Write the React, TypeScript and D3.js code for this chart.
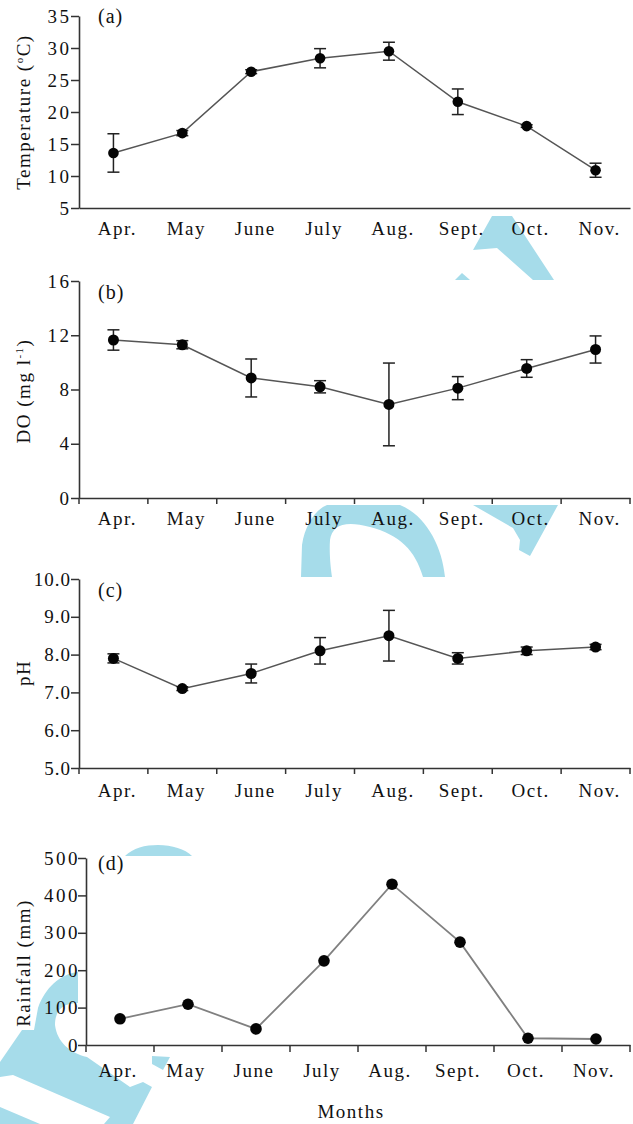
import React, { useEffect, useRef } from "react";
import * as d3 from "d3";

// months on the x axis of every panel
const months = ["Apr.", "May", "June", "July", "Aug.", "Sept.", "Oct.", "Nov."];

// (a) temperature, mean and error
const tempMean = [13.6, 16.7, 26.3, 28.4, 29.5, 21.6, 17.8, 10.9];
const tempErr = [3.0, 0.4, 0.3, 1.5, 1.4, 2.0, 0.2, 1.1];
const tempTicks = [5, 10, 15, 20, 25, 30, 35];

// (b) dissolved oxygen
const doMean = [11.65, 11.3, 8.85, 8.2, 6.9, 8.1, 9.55, 10.95];
const doErr = [0.75, 0.3, 1.4, 0.45, 3.05, 0.85, 0.65, 1.0];
const doTicks = [0, 4, 8, 12, 16];

// (c) pH
const phMean = [7.9, 7.1, 7.5, 8.1, 8.5, 7.9, 8.1, 8.2];
const phErr = [0.12, 0.05, 0.25, 0.35, 0.67, 0.15, 0.1, 0.07];
const phTicks = [5, 6, 7, 8, 9, 10];

// (d) rainfall, no error bars
const rainfall = [70, 109, 43, 225, 430, 275, 18, 16];
const rainTicks = [0, 100, 200, 300, 400, 500];

const FONT = "'Liberation Serif', 'Times New Roman', serif";
const AXIS = "#333";

// background watermark pieces (decoration only)
const watermark = [
  "M492,216 L512,216 L554,280 L533,280 L497,248 L473,250 Z",
  "M455,280 L462,273 L470,280 Z",
  "M301,577 L302,545 C305,525 315,510 327,505 L400,505 C425,515 442,545 445,577 L423,577 C415,550 400,535 370,527 C345,520 332,525 330,540 C329,555 331,570 332,577 Z",
  "M473,505 L558,505 L530,556 L519,550 L520,540 L513,528 Z",
  "M125,856 C133,848 145,845 158,845 C172,845 185,849 192,856 Z",
  "M78,972 C60,974 45,988 38,1008 L34,1030 L22,1030 L0,1062 L0,1077 L13,1075 L110,1117 L104,1124 L133,1124 L152,1087 L143,1082 L130,1087 L87,1057 C70,1053 57,1042 55,1025 C55,1010 63,1003 78,1003 Z",
  "M0,1107 L40,1124 L0,1124 Z",
  "M152,1056 L170,1057 L163,1070 L152,1064 Z",
];

function drawPanel(root: any, p: any) {
  const x = d3.scaleBand().domain(months).range([p.left, p.right]);
  const y = d3.scaleLinear().domain(p.domain).range([p.bottom, p.top]);
  const cx = (i: number) => (x(months[i]) as number) + x.bandwidth() / 2;
  const g = root.append("g");

  // y axis
  const ya = g
    .append("g")
    .attr("transform", `translate(${p.left},0)`)
    .call(
      d3
        .axisLeft(y)
        .tickValues(p.ticks)
        .tickSize(8)
        .tickSizeOuter(0)
        .tickPadding(0)
        .tickFormat(p.fmt)
    );
  ya.attr("font-family", FONT).attr("font-size", 19);
  ya.select(".domain").attr("stroke", AXIS).attr("stroke-width", 1.6);
  ya.selectAll(".tick line").attr("stroke", AXIS).attr("stroke-width", 1.5);
  ya.selectAll(".tick text")
    .attr("x", p.tickTextX)
    .attr("fill", "#111")
    .attr("letter-spacing", p.spacing);

  // x axis: line + month labels at band centres
  const xa = g
    .append("g")
    .attr("transform", `translate(0,${p.bottom})`)
    .call(d3.axisBottom(x).tickSize(0).tickSizeOuter(0));
  xa.attr("font-family", FONT).attr("font-size", 19);
  xa.select(".domain").attr("stroke", AXIS).attr("stroke-width", 1.6);
  xa.selectAll(".tick text")
    .attr("y", p.monthY)
    .attr("dy", null)
    .attr("dx", p.monthDx)
    .attr("fill", "#111")
    .attr("letter-spacing", 1.5);

  // tick marks on band edges
  if (p.xTicks) {
    const edges = months.map((m) => x(m) as number).concat([x.range()[1]]);
    g.selectAll(".edge")
      .data(edges)
      .join("line")
      .attr("x1", (d: number) => d)
      .attr("x2", (d: number) => d)
      .attr("y1", p.bottom)
      .attr("y2", p.bottom + p.tickLen)
      .attr("stroke", AXIS)
      .attr("stroke-width", 1.5);
  }

  // y title
  const t = g
    .append("text")
    .attr("transform", `translate(30,${p.titleY}) rotate(-90)`)
    .attr("text-anchor", "middle")
    .attr("font-family", FONT)
    .attr("font-size", 19)
    .attr("letter-spacing", 1.5)
    .attr("fill", "#111");
  p.title.forEach((part: any) => {
    const s = t.append("tspan").text(part.t);
    if (part.sup) s.attr("font-size", 11).attr("dy", -7);
    if (part.after) s.attr("dy", 7);
  });

  // panel letter
  g.append("text")
    .attr("x", 98)
    .attr("y", p.letterY)
    .attr("font-family", FONT)
    .attr("font-size", 20)
    .attr("letter-spacing", 1)
    .attr("fill", "#111")
    .text(p.letter);

  // connecting line
  const line = d3
    .line<number>()
    .x((d, i) => cx(i))
    .y((d) => y(d));
  g.append("path")
    .attr("d", line(p.mean))
    .attr("fill", "none")
    .attr("stroke", p.lineColor)
    .attr("stroke-width", p.lineWidth);

  // error bars
  if (p.err) {
    const eb = g.append("g").attr("stroke", "#222").attr("stroke-width", 1.5);
    p.mean.forEach((m: number, i: number) => {
      const e = p.err[i];
      const xx = cx(i);
      eb.append("line").attr("x1", xx).attr("x2", xx).attr("y1", y(m - e)).attr("y2", y(m + e));
      eb.append("line").attr("x1", xx - 6).attr("x2", xx + 6).attr("y1", y(m - e)).attr("y2", y(m - e));
      eb.append("line").attr("x1", xx - 6).attr("x2", xx + 6).attr("y1", y(m + e)).attr("y2", y(m + e));
    });
  }

  // markers
  g.selectAll(".pt")
    .data(p.mean)
    .join("circle")
    .attr("cx", (d: number, i: number) => cx(i))
    .attr("cy", (d: number) => y(d))
    .attr("r", p.r)
    .attr("fill", "#050505");
}

export default function App() {
  const ref = useRef<SVGSVGElement>(null);

  useEffect(() => {
    const svg = d3.select(ref.current);
    svg.selectAll("*").remove();

    svg
      .append("g")
      .selectAll("path")
      .data(watermark)
      .join("path")
      .attr("d", (d) => d)
      .attr("fill", "#a6dcea");

    const panels = [
      {
        left: 79, right: 630, top: 16, bottom: 208, domain: [5, 35], ticks: tempTicks,
        fmt: (d: number) => String(d), tickTextX: -7.5, spacing: 2.5, xTicks: false, tickLen: 0,
        monthY: 27, monthDx: 4, titleY: 112, letter: "(a)", letterY: 23,
        title: [{ t: "Temperature (" }, { t: "o", sup: true }, { t: "C)", after: true }],
        mean: tempMean, err: tempErr, lineColor: "#555", lineWidth: 1.5, r: 5.3,
      },
      {
        left: 79, right: 630, top: 281, bottom: 498, domain: [0, 16], ticks: doTicks,
        fmt: (d: number) => String(d), tickTextX: -7.5, spacing: 2.5, xTicks: true, tickLen: 6,
        monthY: 27, monthDx: 4, titleY: 391, letter: "(b)", letterY: 299,
        title: [{ t: "DO (mg l" }, { t: "-1", sup: true }, { t: ")", after: true }],
        mean: doMean, err: doErr, lineColor: "#555", lineWidth: 1.5, r: 5.5,
      },
      {
        left: 79, right: 630, top: 579, bottom: 768, domain: [5, 10], ticks: phTicks,
        fmt: (d: number) => d3.format(".1f")(d), tickTextX: -8, spacing: 1, xTicks: true, tickLen: 6,
        monthY: 29, monthDx: 4, titleY: 673, letter: "(c)", letterY: 597,
        title: [{ t: "pH" }],
        mean: phMean, err: phErr, lineColor: "#555", lineWidth: 1.5, r: 5.5,
      },
      {
        left: 86, right: 630, top: 858, bottom: 1045, domain: [0, 500], ticks: rainTicks,
        fmt: (d: number) => String(d), tickTextX: -6, spacing: 2.5, xTicks: true, tickLen: 7,
        monthY: 32, monthDx: -2, titleY: 963, letter: "(d)", letterY: 870,
        title: [{ t: "Rainfall (mm)" }],
        mean: rainfall, err: null, lineColor: "#808080", lineWidth: 1.8, r: 5.8,
      },
    ];
    panels.forEach((p) => drawPanel(svg, p));

    svg
      .append("text")
      .attr("x", 351)
      .attr("y", 1118)
      .attr("text-anchor", "middle")
      .attr("font-family", FONT)
      .attr("font-size", 19)
      .attr("letter-spacing", 1.5)
      .attr("fill", "#111")
      .text("Months");
  }, []);

  return (
    <div style={{ position: "absolute", left: 0, top: 0 }}>
      <svg ref={ref} width={633} height={1124} style={{ display: "block", background: "#fff" }} />
    </div>
  );
}
